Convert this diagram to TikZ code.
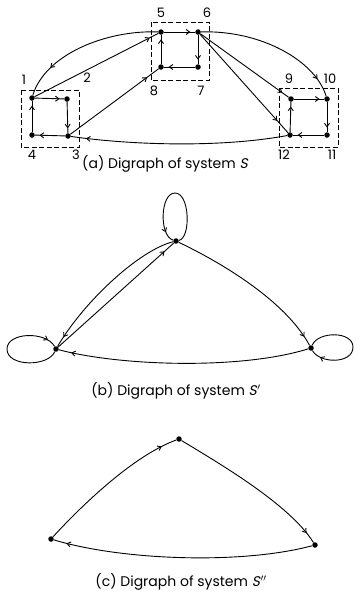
\documentclass[tikz,border=0pt]{standalone}
\usepackage{fontspec}
\setmainfont{Poppins}
\newfontfamily\slantfont[FakeSlant=0.2]{Poppins}
\usetikzlibrary{arrows.meta,decorations.markings}

\tikzset{
  dot/.style={circle, fill, inner sep=0pt, minimum size=5.5pt},
  edge/.style={line width=0.9pt},
  arrowat/.style={postaction={decorate},
    decoration={markings, mark=at position #1 with {\arrow{>}}}},
  cluster/.style={line width=0.6pt, dash pattern=on 5pt off 2.5pt},
  lbl/.style={font=\fontsize{13}{13}\selectfont, inner sep=0pt},
  caption/.style={font=\fontsize{14}{16}\selectfont, inner sep=0pt},
}

\begin{document}
\begin{tikzpicture}[x=1pt, y=-1pt, >={Straight Barb[length=3.5pt,width=5pt]}]
  \useasboundingbox (0,0) rectangle (354,595);

  % (a) system S
  \draw[cluster] (21,90) rectangle (79,147);
  \draw[cluster] (151,22) rectangle (209,80);
  \draw[cluster] (279,88) rectangle (338,147);
  \foreach \n/\x/\y in {1/32/98, 2/67/99, 3/68/136, 4/32/135,
                        5/161/32, 6/198/32, 7/198/67, 8/161/67,
                        9/291/99, 10/327/99, 11/327/135, 12/290/135}
    \node[dot] (n\n) at (\x,\y) {};
  \node[lbl] (l1) at (24,80) {1};
  \node[lbl] (l2) at (87,78) {2};
  \node[lbl] (l3) at (76,155) {3};
  \node[lbl] (l4) at (32,155) {4};
  \node[lbl] (l5) at (161,13) {5};
  \node[lbl] (l6) at (207,13) {6};
  \node[lbl] (l7) at (201,91) {7};
  \node[lbl] (l8) at (154,91) {8};
  \node[lbl] (l9) at (289,79) {9};
  \node[lbl] (l10) at (330,79) {10};
  \node[lbl] (l11) at (332,155) {11};
  \node[lbl] (l12) at (284,155) {12};
  \foreach \a/\b in {1/2, 2/3, 3/4, 4/1, 5/6, 6/7, 7/8, 8/5, 9/10, 10/11, 11/12, 12/9}
    \draw[edge, arrowat=0.85] (n\a) -- (n\b);
  \draw[edge, arrowat=0.93] (n1) -- (n5);
  \draw[edge, arrowat=0.87] (n3) -- (n8);
  \draw[edge, arrowat=0.93] (n6) -- (n9);
  \draw[edge, arrowat=0.88] (n6) -- (n12);
  \draw[edge, arrowat=0.78] (n5) .. controls (105,30) and (45,55) .. (n1);
  \draw[edge, arrowat=0.87] (n6) .. controls (260,30) and (315,60) .. (n10);
  \draw[edge, arrowat=0.93] (n12) .. controls (220,148) and (130,145) .. (n3);
  \node[caption] (capa) at (165,164) {(a) Digraph of system {\slantfont S}};

  % (b) system S'
  \node[dot] (bt) at (176,241) {};
  \node[dot] (bl) at (56,349) {};
  \node[dot] (br) at (311,348) {};
  \draw[edge, arrowat=0.9] (bt) .. controls (191,238) and (190,193) .. (175,193)
    .. controls (160,193) and (159,236) .. (bt);
  \draw[edge, arrowat=0.92] (bl) .. controls (48,367) and (7,367) .. (7,349)
    .. controls (7,332) and (46,331) .. (bl);
  \draw[edge, arrowat=0.9] (br) .. controls (318,331) and (353,331) .. (353,347)
    .. controls (353,364) and (320,364) .. (br);
  \draw[edge, arrowat=0.93] (bt) .. controls (140,250) and (85,300) .. (bl);
  \draw[edge, arrowat=0.92] (bl) -- (bt);
  \draw[edge, arrowat=0.94] (bt) .. controls (220,262) and (285,300) .. (br);
  \draw[edge, arrowat=0.95] (br) .. controls (240,370) and (120,366) .. (bl);
  \node[caption] (capb) at (176,391) {(b) Digraph of system {\slantfont S}\kern0.5pt$'$};

  % (c) system S''
  \node[dot] (ct) at (179,439) {};
  \node[dot] (cl) at (51,539) {};
  \node[dot] (cr) at (315,545) {};
  \draw[edge, arrowat=0.9] (cl) .. controls (85,502) and (135,455) .. (ct);
  \draw[edge, arrowat=0.93] (ct) .. controls (222,465) and (290,505) .. (cr);
  \draw[edge, arrowat=0.95] (cr) .. controls (240,565) and (120,560) .. (cl);
  \node[caption] (capc) at (181,582) {(c) Digraph of system {\slantfont S}\kern0.5pt$''$};
\end{tikzpicture}
\end{document}
